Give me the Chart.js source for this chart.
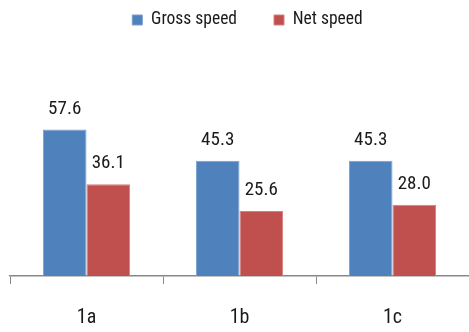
<!DOCTYPE html>
<html>
<head>
<meta charset="utf-8">
<script src="https://cdn.jsdelivr.net/npm/chart.js@4"></script>
<style>
  body { margin: 0; background: #fff; }
  #wrap { width: 469px; height: 332px; }
</style>
</head>
<body>
<div id="wrap"><canvas id="bar-chart"></canvas></div>
<script>
// runs and their two speeds
const runs = ["1a", "1b", "1c"];
const grossSpeed = [57.6, 45.3, 45.3];
const netSpeed = [36.1, 25.6, 28.0];

// Roboto in its condensed width; Chart.js only checks "style",
// so the stretch keyword goes into "weight" and lands in the font string
const fuente = "Roboto, sans-serif";
const estrecha = "condensed";

// numbers printed above each bar
const etiquetas = {
    id: "etiquetas",
    afterDatasetsDraw(chart) {
        const ctx = chart.ctx;
        ctx.save();
        ctx.font = estrecha + " 19px " + fuente;
        ctx.fillStyle = "#1a1a1a";
        ctx.textAlign = "center";
        ctx.textBaseline = "alphabetic";
        chart.data.datasets.forEach((ds, i) => {
            chart.getDatasetMeta(i).data.forEach((bar, j) => {
                ctx.fillText(ds.data[j].toFixed(1), bar.x, bar.y - 16);
            });
        });
        ctx.restore();
    }
};

// the legend keeps its wide item spacing but sits up near the top edge
const subirLeyenda = {
    id: "subirLeyenda",
    afterLayout(chart) {
        const leyenda = chart.legend;
        const lbl = leyenda.options.labels;
        leyenda.top = 20 - lbl.padding - lbl.font.size / 2;
        leyenda.left += 8;
        leyenda.right += 8;
    }
};

const contenedor = document.querySelector("#bar-chart").getContext("2d");

const barChart = new Chart(contenedor, {
    type: "bar",
    data: {
        labels: runs,
        datasets: [
            {
                label: "Gross speed",
                data: grossSpeed,
                backgroundColor: "#4F81BD",
                borderColor: "#7A9FD0",
                borderWidth: 1
            },
            {
                label: "Net speed",
                data: netSpeed,
                backgroundColor: "#C0504D",
                borderColor: "#D77F7C",
                borderWidth: 1
            }
        ]
    },
    options: {
        responsive: true,
        maintainAspectRatio: false,
        animation: false,
        layout: { padding: { left: 10, right: 0, top: 33.5, bottom: 2 } },
        datasets: {
            bar: { barPercentage: 1, categoryPercentage: 0.57 }
        },
        plugins: {
            legend: {
                position: "top",
                labels: {
                    boxWidth: 10,
                    boxHeight: 10,
                    padding: 37,
                    color: "#1a1a1a",
                    font: { family: fuente, weight: estrecha, size: 17.5 }
                }
            },
            tooltip: { enabled: false }
        },
        scales: {
            x: {
                grid: {
                    offset: true,
                    drawOnChartArea: false,
                    tickLength: 8,
                    color: "#888"
                },
                border: { color: "#888", width: 1.5 },
                ticks: {
                    padding: 22,
                    color: "#1a1a1a",
                    font: { family: fuente, weight: estrecha, size: 20 }
                },
                // padding is only wanted between tick and label, not below it
                afterFit(scale) {
                    scale.height -= scale.options.ticks.padding;
                }
            },
            y: {
                display: false,
                min: 0,
                max: 70
            }
        }
    },
    plugins: [etiquetas, subirLeyenda]
});
</script>
</body>
</html>
